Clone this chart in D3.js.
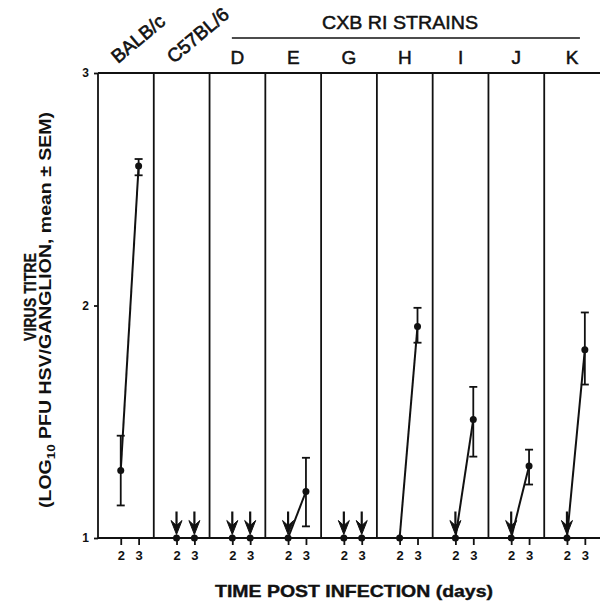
<!DOCTYPE html>
<html>
<head>
<meta charset="utf-8">
<script src="https://cdn.jsdelivr.net/npm/d3@7"></script>
<style>
  body { margin: 0; background: #fff; }
  svg { display: block; }
  text { font-family: "Liberation Sans", Arial, sans-serif; font-weight: bold; fill: #111; }
</style>
</head>
<body>
<svg width="600" height="605"></svg>
<script>
const strains = ["BALB/c", "C57BL/6", "D", "E", "G", "H", "I", "J", "K"];
const days = [2, 3];

// log10 titre, mean and SEM limits
const day2Mean = [1.29, 1, 1, 1, 1, 1, 1, 1, 1];
const day2Hi   = [1.44, null, null, null, null, null, null, null, null];
const day2Lo   = [1.14, null, null, null, null, null, null, null, null];
const day3Mean = [2.60, 1, 1, 1.20, 1, 1.91, 1.51, 1.31, 1.81];
const day3Hi   = [2.63, null, null, 1.345, null, 1.99, 1.65, 1.38, 1.97];
const day3Lo   = [2.56, null, null, 1.05, null, 1.84, 1.35, 1.23, 1.66];
// arrows = below detection limit
const day2Below = [false, true, true, true, true, false, true, true, true];
const day3Below = [false, true, true, false, true, false, false, false, false];

const yTicks = [1, 2, 3];
const riStrains = ["D", "E", "G", "H", "I", "J", "K"];

const svg = d3.select("svg"),
    width = +svg.attr("width"),
    height = +svg.attr("height");

const x = d3.scaleBand().domain(strains).range([98, 600]);
const y = d3.scaleLinear().domain([1, 3]).range([538, 73]);
const xd = d3.scalePoint().domain(days).range([0, x.bandwidth()]).padding(1.06).align(0.6);
const bw = x.bandwidth();

const pts = [];
strains.forEach((s, i) => {
  pts.push({ s: s, day: 2, mean: day2Mean[i], hi: day2Hi[i], lo: day2Lo[i], below: day2Below[i] });
  pts.push({ s: s, day: 3, mean: day3Mean[i], hi: day3Hi[i], lo: day3Lo[i], below: day3Below[i] });
});
const px = d => x(d.s) + xd(d.day);

// panel dividers
svg.append("g")
    .selectAll("line")
    .data(strains)
    .enter().append("line")
    .attr("x1", d => x(d)).attr("x2", d => x(d))
    .attr("y1", y(3)).attr("y2", y(1))
    .attr("stroke", "#111").attr("stroke-width", 1.8);

// top and bottom frame
svg.append("line")
    .attr("x1", x.range()[0]).attr("x2", x.range()[1])
    .attr("y1", y(3)).attr("y2", y(3))
    .attr("stroke", "#111").attr("stroke-width", 1.8);
svg.append("line")
    .attr("x1", x.range()[0]).attr("x2", x.range()[1])
    .attr("y1", y(1)).attr("y2", y(1))
    .attr("stroke", "#111").attr("stroke-width", 1.8);

// y axis
const yAxis = svg.append("g")
    .attr("transform", `translate(${x.range()[0]},0)`)
    .call(d3.axisLeft(y).tickValues(yTicks).tickSize(4).tickSizeOuter(0).tickFormat(d3.format("d")));
yAxis.select(".domain").remove();
yAxis.selectAll(".tick line").attr("stroke", "#111").attr("stroke-width", 1.8);
yAxis.selectAll(".tick text").attr("x", -9).style("font-size", "12px").attr("fill", "#111");

// bottom day axes, one per panel
strains.forEach(s => {
  const g = svg.append("g")
      .attr("transform", `translate(${x(s)},${y(1)})`)
      .call(d3.axisBottom(xd).tickSize(7).tickSizeOuter(0));
  g.select(".domain").remove();
  g.selectAll(".tick line").attr("stroke", "#111").attr("stroke-width", 1.8);
  g.selectAll(".tick text").attr("y", 13).style("font-size", "13px").attr("fill", "#111");
});

// connecting lines
svg.append("g")
    .selectAll("line")
    .data(strains)
    .enter().append("line")
    .attr("x1", d => x(d) + xd(2))
    .attr("y1", (d, i) => y(day2Mean[i]))
    .attr("x2", d => x(d) + xd(3))
    .attr("y2", (d, i) => y(day3Mean[i]))
    .attr("stroke", "#111").attr("stroke-width", 2);

// error bars
const eb = svg.append("g")
    .selectAll("g")
    .data(pts.filter(d => d.hi != null))
    .enter().append("g")
    .attr("stroke", "#111").attr("stroke-width", 1.8);
eb.append("line")
    .attr("x1", px).attr("x2", px)
    .attr("y1", d => y(d.hi)).attr("y2", d => y(d.lo));
eb.append("line")
    .attr("x1", d => px(d) - 4).attr("x2", d => px(d) + 4)
    .attr("y1", d => y(d.hi)).attr("y2", d => y(d.hi));
eb.append("line")
    .attr("x1", d => px(d) - 4).attr("x2", d => px(d) + 4)
    .attr("y1", d => y(d.lo)).attr("y2", d => y(d.lo));

// points
svg.append("g")
    .selectAll("circle")
    .data(pts)
    .enter().append("circle")
    .attr("cx", px)
    .attr("cy", d => y(d.mean))
    .attr("r", 3.5)
    .attr("fill", "#111");

// detection limit arrows
const arr = svg.append("g")
    .selectAll("g")
    .data(pts.filter(d => d.below))
    .enter().append("g")
    .attr("transform", d => `translate(${px(d)},${y(d.mean) - 3.5})`);
arr.append("line")
    .attr("x1", 0).attr("x2", 0)
    .attr("y1", -23).attr("y2", -6)
    .attr("stroke", "#111").attr("stroke-width", 2.2);
arr.append("path")
    .attr("d", "M0,0 L-5.5,-14 L0,-9 L5.5,-14 Z")
    .attr("fill", "#111").attr("stroke", "#111").attr("stroke-width", 1);

// strain labels, slanted
svg.append("g")
    .selectAll("text")
    .data(strains.slice(0, 2))
    .enter().append("text")
    .attr("transform", d => `translate(${x(d) + bw / 2 - 8},64) rotate(-40)`)
    .style("font-size", "19px")
    .style("font-weight", "normal")
    .attr("stroke", "#111").attr("stroke-width", 0.6)
    .text(d => d);
svg.append("g")
    .selectAll("text")
    .data(riStrains)
    .enter().append("text")
    .attr("x", d => x(d) + bw / 2)
    .attr("y", 64)
    .attr("text-anchor", "middle")
    .style("font-size", "19px")
    .style("font-weight", "normal")
    .attr("stroke", "#111").attr("stroke-width", 0.5)
    .text(d => d);

// CXB bracket
svg.append("line")
    .attr("x1", x("D") + bw * 0.4).attr("x2", x("K") + bw * 0.64)
    .attr("y1", 38).attr("y2", 38)
    .attr("stroke", "#111").attr("stroke-width", 1.5);
svg.append("text")
    .attr("x", 400).attr("y", 29)
    .attr("text-anchor", "middle")
    .style("font-size", "19px")
    .style("font-weight", "normal")
    .attr("stroke", "#111").attr("stroke-width", 0.5)
    .attr("textLength", 156).attr("lengthAdjust", "spacingAndGlyphs")
    .text("CXB RI STRAINS");

// y title
svg.append("text")
    .attr("transform", "translate(36,297) rotate(-90)")
    .attr("text-anchor", "middle")
    .style("font-size", "16px")
    .attr("stroke", "#111").attr("stroke-width", 0.3)
    .attr("textLength", 88).attr("lengthAdjust", "spacingAndGlyphs")
    .text("VIRUS TITRE");
const line2 = svg.append("text")
    .attr("transform", "translate(51,310) rotate(-90)")
    .attr("text-anchor", "middle")
    .style("font-size", "16px")
    .attr("textLength", 396).attr("lengthAdjust", "spacingAndGlyphs");
line2.append("tspan").text("(LOG");
line2.append("tspan").attr("dy", 4).style("font-size", "11px").text("10");
line2.append("tspan").attr("dy", -4).text("  PFU HSV/GANGLION, mean \u00b1 SEM)");

// x title
svg.append("text")
    .attr("x", 354).attr("y", 597)
    .attr("text-anchor", "middle")
    .style("font-size", "17px")
    .attr("stroke", "#111").attr("stroke-width", 0.4)
    .attr("textLength", 278).attr("lengthAdjust", "spacingAndGlyphs")
    .text("TIME POST INFECTION (days)");
</script>
</body>
</html>
